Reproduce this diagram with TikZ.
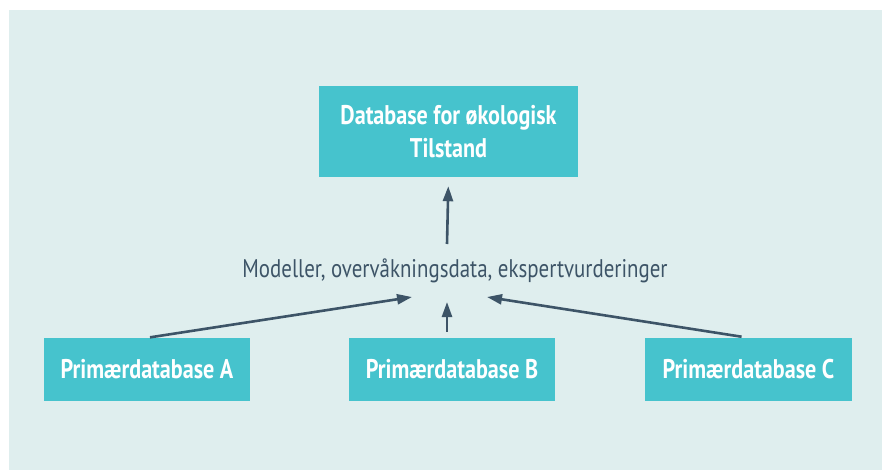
\documentclass[tikz,border=0pt]{standalone}
\usepackage{fontspec}
\setmainfont{PT Sans}[FakeStretch=0.82]
\usetikzlibrary{arrows.meta}
\definecolor{bgteal}{HTML}{DFEEEE}
\definecolor{boxteal}{HTML}{46C3CD}
\definecolor{slate}{HTML}{3D5467}
\tikzset{>={Triangle[length=15pt,width=10pt]},
  dbbox/.style={fill=boxteal,text=white,font=\fontsize{27}{33}\selectfont\bfseries,
    minimum width=206pt,minimum height=63pt,inner sep=0pt,align=center},
  arr/.style={->,draw=slate,line width=2.6pt}
}

\begin{document}
\begin{tikzpicture}[x=1pt,y=-1pt]
\useasboundingbox (0,0) rectangle (882,470);
\fill[bgteal] (9,10) rectangle (882,470);
% database nodes
\node[dbbox,minimum width=259pt,minimum height=91pt] (top) at (448.5,131.5) {Database for økologisk\\Tilstand};
\node[dbbox] (primA) at (147,369.5) {Primærdatabase A};
\node[dbbox] (primB) at (452,369.5) {Primærdatabase B};
\node[dbbox,minimum width=207pt] (primC) at (748.5,369.5) {Primærdatabase C};
\node[text=slate,font=\fontsize{25.5}{30}\selectfont] (mid) at (455,271) {Modeller, overvåkningsdata, ekspertvurderinger};
% arrow ends near the middle text
\coordinate (midtop) at (447,244);
\coordinate (tipA) at (412,297);
\coordinate (tipB) at (447,302);
\coordinate (tipC) at (487,297);
\draw[arr,shorten >=9pt] (midtop) -- (top.south);
\draw[arr,shorten <=3pt] (primA.north) -- (tipA);
\draw[arr,shorten <=6pt] (tipB |- primB.north) -- (tipB);
\draw[arr,shorten <=7pt] (primC.north) -- (tipC);
\end{tikzpicture}
\end{document}
